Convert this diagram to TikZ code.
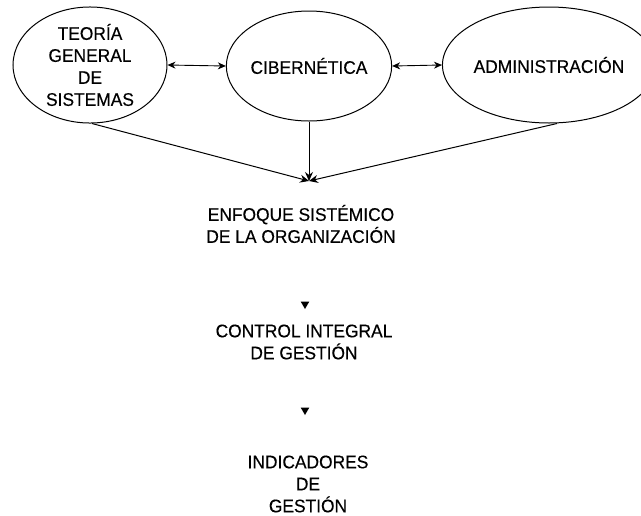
\documentclass[tikz,border=0pt]{standalone}
\usepackage{fontspec}
\setmainfont{Liberation Sans}[FakeStretch=0.95,FakeBold=0.3]
\usetikzlibrary{arrows.meta,shapes.geometric}
\begin{document}
\begin{tikzpicture}[x=1pt,y=-1pt,
  lbl/.style={font=\fontsize{18.3}{22}\selectfont, align=center, inner sep=0pt},
  oval/.style={draw, ellipse, line width=1pt, inner sep=0pt, font=\fontsize{18.3}{22}\selectfont, align=center},
  dbl/.style={line width=0.9pt, {Stealth[length=8pt,width=7pt]}-{Stealth[length=8pt,width=7pt]}},
  conv/.style={line width=1pt, -{Stealth[length=9pt,width=8pt]}},
  tri/.style={regular polygon, regular polygon sides=3, shape border rotate=180, fill=black, minimum size=10pt, inner sep=0pt}
]
\useasboundingbox (0,0) rectangle (641,515);
\node[oval, minimum width=154pt, minimum height=116pt] (tgs) at (90,65) {TEORÍA\\GENERAL\\DE\\SISTEMAS};
\node[oval, minimum width=155pt, minimum height=110pt] (cib) at (309,66) {CIBERNÉTICA};
\node[oval, minimum width=186pt, minimum height=116pt] (adm) at (549,65) {ADMINISTRACIÓN};
\coordinate (c) at (309,181);
\draw[dbl] (tgs.east) -- (cib.west);
\draw[dbl] (cib.east) -- (adm.west);
\draw[conv] (tgs.south) ++(2,0) -- (c);
\draw[conv] (cib.south) -- (c);
\draw[conv] (adm.south) ++(8,0) -- (c);
\node[lbl] (enf) at (301,224) {ENFOQUE SISTÉMICO\\DE LA ORGANIZACIÓN};
\node[tri] (tr1) at (305,304) {};
\node[lbl] (ctl) at (304,342) {CONTROL INTEGRAL\\DE GESTIÓN};
\node[tri] (tr2) at (305,410) {};
\node[lbl] (ind) at (308,484) {INDICADORES\\DE\\GESTIÓN};
\end{tikzpicture}
\end{document}
